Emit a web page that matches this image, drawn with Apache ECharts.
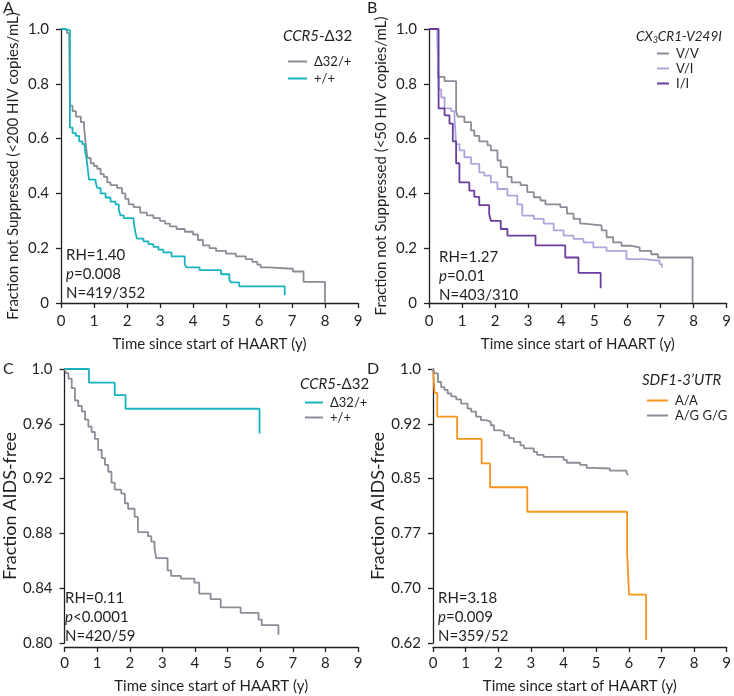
<!DOCTYPE html>
<html>
<head>
<meta charset="utf-8">
<script src="https://cdn.jsdelivr.net/npm/echarts@6/dist/echarts.min.js"></script>
<style>
html,body{margin:0;padding:0;background:#fff;}
#chart{width:734px;height:696px;}
</style>
</head>
<body>
<div id="chart"></div>
<script>
// ---------- DATA ----------
const xTicks = [0,1,2,3,4,5,6,7,8,9];

// Panel A : CCR5-Δ32, viral suppression <200 copies
const A_delta = [[0,1.0],[0.1,0.995],[0.18,0.985],[0.25,0.95],[0.27,0.72],[0.35,0.70],[0.45,0.68],[0.6,0.66],[0.7,0.64],[0.75,0.58],[0.8,0.53],[0.9,0.51],[1.0,0.50],[1.1,0.49],[1.2,0.47],[1.3,0.46],[1.4,0.44],[1.5,0.43],[1.7,0.42],[1.85,0.40],[1.95,0.38],[2.05,0.36],[2.2,0.35],[2.4,0.33],[2.6,0.32],[2.8,0.31],[3.0,0.30],[3.15,0.29],[3.3,0.28],[3.5,0.27],[3.75,0.26],[4.0,0.25],[4.15,0.23],[4.3,0.21],[4.5,0.20],[4.7,0.19],[5.0,0.18],[5.3,0.17],[5.6,0.16],[5.8,0.15],[5.95,0.14],[6.05,0.13],[6.3,0.125],[7.03,0.115],[7.35,0.077],[8.0,0]];
const A_wt = [[0,1.0],[0.15,0.995],[0.27,0.64],[0.35,0.62],[0.45,0.61],[0.55,0.59],[0.65,0.58],[0.72,0.56],[0.77,0.53],[0.8,0.50],[0.85,0.45],[1.05,0.44],[1.1,0.42],[1.2,0.40],[1.35,0.385],[1.5,0.37],[1.65,0.36],[1.75,0.34],[1.8,0.32],[1.9,0.31],[2.2,0.30],[2.25,0.26],[2.3,0.235],[2.5,0.225],[2.65,0.215],[2.8,0.205],[2.95,0.195],[3.1,0.185],[3.35,0.17],[3.75,0.14],[3.8,0.13],[4.2,0.12],[4.85,0.105],[5.1,0.085],[5.15,0.075],[5.4,0.061],[6.78,0.028]];

// Panel B : CX3CR1-V249I, viral suppression <50 copies
const B_VV = [[0,1.0],[0.27,0.825],[0.47,0.81],[0.82,0.70],[0.87,0.68],[1.07,0.66],[1.27,0.63],[1.37,0.61],[1.52,0.59],[1.77,0.575],[1.87,0.557],[2.07,0.52],[2.17,0.496],[2.37,0.46],[2.5,0.44],[2.77,0.43],[2.97,0.405],[3.17,0.386],[3.37,0.374],[3.52,0.36],[3.97,0.35],[4.17,0.326],[4.37,0.307],[4.57,0.29],[4.67,0.283],[5.22,0.265],[5.37,0.24],[5.57,0.221],[5.82,0.209],[6.07,0.203],[6.37,0.19],[6.72,0.178],[6.92,0.166],[7.97,0]];
const B_VI = [[0,1.0],[0.25,0.96],[0.3,0.78],[0.37,0.75],[0.47,0.71],[0.67,0.70],[0.77,0.68],[0.82,0.58],[0.92,0.557],[1.07,0.532],[1.27,0.508],[1.52,0.477],[1.67,0.465],[1.87,0.44],[2.07,0.416],[2.37,0.392],[2.67,0.36],[2.82,0.319],[3.17,0.307],[3.47,0.29],[3.77,0.265],[4.07,0.246],[4.37,0.234],[4.67,0.221],[4.97,0.203],[5.37,0.19],[5.97,0.16],[6.47,0.155],[6.97,0.142],[7.04,0.13]];
const B_II = [[0,1.0],[0.29,0.71],[0.47,0.685],[0.62,0.655],[0.72,0.59],[0.82,0.51],[0.92,0.44],[1.22,0.41],[1.37,0.387],[1.52,0.357],[1.82,0.325],[1.87,0.30],[2.17,0.27],[2.37,0.246],[3.22,0.21],[4.12,0.166],[4.52,0.11],[5.19,0.054]];

// Panel C : CCR5-Δ32, AIDS-free
const C_delta = [[0,1.0],[0.75,0.990],[1.54,0.981],[1.87,0.971],[5.98,0.953]];
const C_wt = [[0,1.0],[0.05,0.997],[0.12,0.993],[0.22,0.986],[0.32,0.977],[0.42,0.973],[0.53,0.969],[0.63,0.963],[0.73,0.958],[0.83,0.954],[0.93,0.949],[1.03,0.941],[1.14,0.935],[1.24,0.930],[1.34,0.925],[1.44,0.917],[1.54,0.912],[1.74,0.909],[1.85,0.902],[1.95,0.898],[2.15,0.892],[2.25,0.881],[2.56,0.878],[2.66,0.874],[2.76,0.869],[2.81,0.862],[3.16,0.853],[3.27,0.849],[3.57,0.847],[3.98,0.844],[4.13,0.836],[4.48,0.832],[4.79,0.826],[5.4,0.822],[5.95,0.817],[6.05,0.813],[6.56,0.806]];

// Panel D : SDF1-3'UTR, AIDS-free
const D_AA = [[0,1.0],[0.05,0.967],[0.13,0.934],[0.74,0.903],[1.49,0.869],[1.75,0.836],[2.89,0.802],[5.95,0.744],[6.01,0.687],[6.53,0.624]];
const D_AG = [[0,1.0],[0.05,0.994],[0.15,0.982],[0.25,0.975],[0.35,0.971],[0.45,0.966],[0.56,0.962],[0.71,0.958],[0.86,0.952],[1.06,0.945],[1.17,0.941],[1.32,0.934],[1.47,0.929],[1.62,0.927],[1.77,0.922],[1.87,0.915],[2.08,0.913],[2.18,0.908],[2.33,0.904],[2.48,0.899],[2.68,0.894],[2.79,0.890],[3.09,0.885],[3.19,0.881],[3.39,0.878],[4.0,0.874],[4.1,0.870],[4.51,0.867],[4.71,0.863],[4.91,0.862],[5.42,0.859],[5.93,0.856],[5.98,0.853]];

const legendA = ['Δ32/+','+/+'];
const legendB = ['V/V','V/I','I/I'];
const legendC = ['Δ32/+','+/+'];
const legendD = ['A/A','A/G G/G'];

const statsA = ['RH=1.40','0.008','N=419/352'];
const statsB = ['RH=1.27','0.01','N=403/310'];
const statsC = ['RH=0.11','<0.0001','N=420/59'];
const statsD = ['RH=3.18','0.009','N=359/52'];

// ---------- STYLE ----------
const FONT = 'Lato';
const TXT = '#231f20';
const GRAY = '#8b8d96';
const TEAL = '#17b3bf';
const ORANGE = '#f7941d';
const LAV = '#aaa6dd';
const PURPLE = '#6a3d9e';

const grids = [
  {left:61, top:29, width:297, height:274},
  {left:429, top:29, width:300, height:274},
  {left:63, top:369, width:295, height:274},
  {left:433, top:369, width:296, height:274}
];

function xAx(i, off){
  return {type:'value', gridIndex:i, min:0, max:9, interval:1, offset:off,
    name:'Time since start of HAART (y)', nameLocation:'middle', nameGap:32,
    nameTextStyle:{fontFamily:FONT, fontSize:15, color:TXT},
    axisLine:{show:true, lineStyle:{color:TXT, width:1.3}},
    axisTick:{show:true, length:5, lineStyle:{color:TXT, width:1.3}},
    axisLabel:{fontFamily:FONT, fontSize:15, color:TXT, margin:9},
    splitLine:{show:false}};
}
function yAx(i, min, max, interval, name, nameSize, gap, fmt){
  return {type:'value', gridIndex:i, min:min, max:max, interval:interval,
    name:name, nameLocation:'middle', nameGap:gap,
    nameTextStyle:{fontFamily:FONT, fontSize:nameSize, color:TXT},
    axisLine:{show:true, lineStyle:{color:TXT, width:1.3}},
    axisTick:{show:true, length:5, lineStyle:{color:TXT, width:1.3}},
    axisLabel:{fontFamily:FONT, fontSize:15, color:TXT, margin:12, formatter:fmt},
    splitLine:{show:false}};
}
const fmt1 = v => (Math.abs(v) < 1e-9 ? '0' : (Math.abs(v-1)<1e-6 ? '1.0' : v.toFixed(1)));
const fmt2 = v => (Math.abs(v-1)<1e-6 ? '1.0' : v.toFixed(2));

function ser(name, data, color, gi){
  return {type:'line', name:name, data:data, step:'end', symbol:'none', showSymbol:false,
    xAxisIndex:gi, yAxisIndex:gi, lineStyle:{color:color, width:1.8}, itemStyle:{color:color},
    animation:false, silent:true};
}

function legendBox(prefix, names, left, top, w, gap){
  return {orient:'vertical', left:left, top:top, itemWidth:w, itemHeight:2, itemGap:gap,
    icon:'rect', data:names.map(n=>prefix+'|'+n), selectedMode:false,
    formatter: n => n.split('|')[1],
    textStyle:{fontFamily:FONT, fontSize:13, color:TXT, padding:[0,0,0,2]}};
}

function stats(left, top, s){
  return {type:'text', left:left, top:top, style:{
    text:s[0]+'\n{i|p}'+(s[1][0]==='<'?'':'=')+s[1]+'\n'+s[2],
    rich:{i:{fontStyle:'italic', fontFamily:FONT, fontSize:15, fill:TXT}},
    fontFamily:FONT, fontSize:15, lineHeight:19, fill:TXT}};
}
function title(left, top, rich, text){
  return {type:'text', left:left, top:top, style:{text:text, rich:rich, fontFamily:FONT, fontSize:15, fill:TXT}};
}
function panel(left, top, t){
  return {type:'text', left:left, top:top, style:{text:t, fontFamily:FONT, fontSize:16, fill:TXT}};
}
const richT = {
  i:{fontStyle:'italic', fontFamily:FONT, fontSize:15, fill:TXT},
  n:{fontFamily:FONT, fontSize:15, fill:TXT}
};
const richB = {
  i:{fontStyle:'italic', fontFamily:FONT, fontSize:13.5, fill:TXT},
  s:{fontStyle:'italic', fontFamily:FONT, fontSize:9, fill:TXT, verticalAlign:'bottom', padding:[7,0,0,0]}
};

const option = {
  backgroundColor:'#fff',
  animation:false,
  grid: grids,
  xAxis:[xAx(0,2), xAx(1,2), xAx(2,4), xAx(3,4)],
  yAxis:[
    yAx(0, 0, 1, 0.2, 'Fraction not Suppressed (<200 HIV copies/mL)', 15, 40, fmt1),
    yAx(1, 0, 1, 0.2, 'Fraction not Suppressed (<50 HIV copies/mL)', 15, 40, fmt1),
    yAx(2, 0.8, 1, 0.04, 'Fraction AIDS-free', 18, 42, fmt2),
    yAx(3, 0.62, 1, 0.076, 'Fraction AIDS-free', 18, 42, fmt2)
  ],
  legend:[
    legendBox('A', legendA, 283, 50, 19, 4),
    legendBox('B', legendB, 652, 42, 12, 2),
    legendBox('C', legendC, 300, 391, 18, 2),
    legendBox('D', legendD, 642, 389, 21, 2)
  ],
  series:[
    ser('A|'+legendA[0], A_delta, GRAY, 0),
    ser('A|'+legendA[1], A_wt, TEAL, 0),
    ser('B|'+legendB[0], B_VV, GRAY, 1),
    ser('B|'+legendB[1], B_VI, LAV, 1),
    ser('B|'+legendB[2], B_II, PURPLE, 1),
    ser('C|'+legendC[0], C_delta, TEAL, 2),
    ser('C|'+legendC[1], C_wt, GRAY, 2),
    ser('D|'+legendD[0], D_AA, ORANGE, 3),
    ser('D|'+legendD[1], D_AG, GRAY, 3)
  ],
  graphic:[
    panel(3, 0, 'A'), panel(367, 0, 'B'), panel(3, 361, 'C'), panel(367, 361, 'D'),
    title(283, 29, richT, '{i|CCR5}{n|-Δ32}'),
    title(636, 30, richB, '{i|CX}{s|3}{i|CR1-V249I}'),
    title(300, 377, richT, '{i|CCR5}{n|-Δ32}'),
    title(642, 373, richT, "{i|SDF1-3’UTR}"),
    stats(66, 246, statsA),
    stats(439, 248, statsB),
    stats(65, 589, statsC),
    stats(438, 589, statsD)
  ]
};
const chart = echarts.init(document.getElementById('chart'), null, {renderer:'canvas'});
chart.setOption(option);
</script>
</body>
</html>
